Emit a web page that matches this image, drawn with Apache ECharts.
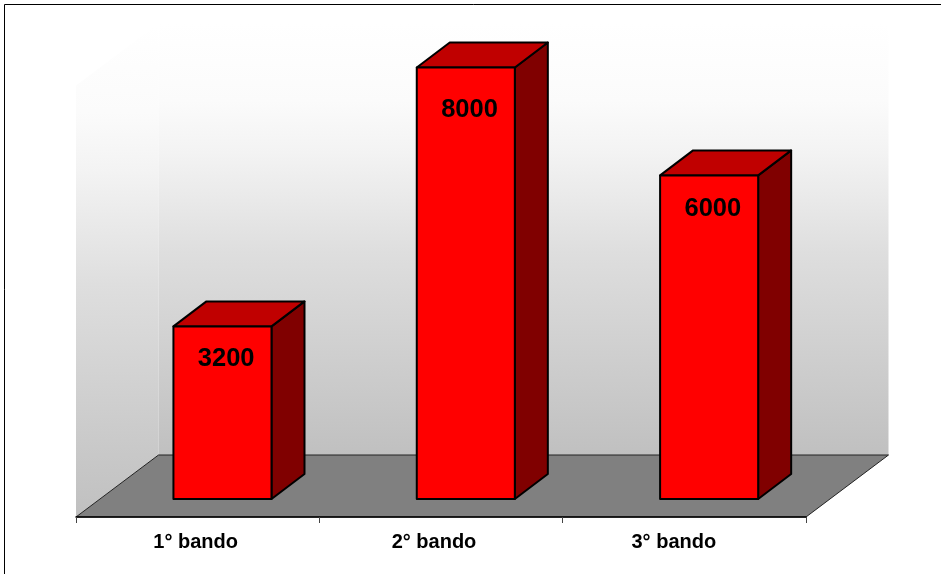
<!DOCTYPE html>
<html>
<head>
<meta charset="utf-8">
<style>html,body{margin:0;padding:0;background:#fff}#c{width:941px;height:574px}</style>
<script src="https://cdn.jsdelivr.net/npm/echarts@6/dist/echarts.min.js"></script>
</head>
<body>
<div id="c"></div>
<script>
const categories = ['1° bando', '2° bando', '3° bando'];
const values = [3200, 8000, 6000];
const axisMax = 8000;

// Styling of the pseudo-3D projection (pixels)
const wallDepth = [82.5, -62];
const barInset = [24.8, -18];
const barDepth = [33, -25];
const barWidthRatio = 0.403;
const labelDrops = [33, 42, 34];
const labelShift = 3.7;
const axisLabelPadRight = [4, 14, 21];

const chart = echarts.init(document.getElementById('c'), null, {renderer: 'canvas'});

function poly(points, fill, lineWidth, stroke) {
  return {
    type: 'polygon',
    shape: {points},
    style: {fill, stroke: stroke || '#000', lineWidth: lineWidth, lineJoin: 'round'}
  };
}

function wallGradient() {
  return new echarts.graphic.LinearGradient(0, 0, 0, 1, [
    {offset: 0, color: '#ffffff'},
    {offset: 0.18, color: '#fbfbfb'},
    {offset: 0.30, color: '#f3f3f3'},
    {offset: 0.41, color: '#e9e9e9'},
    {offset: 0.53, color: '#dedede'},
    {offset: 1, color: '#c0c0c0'}
  ]);
}

function renderRoom(params) {
  const g = params.coordSys;
  const x0 = g.x, x1 = g.x + g.width, y0 = g.y + g.height, yt = g.y;
  const [dx, dy] = wallDepth;
  return {
    type: 'group',
    silent: true,
    children: [
      poly([[x0, y0], [x0 + dx, y0 + dy], [x0 + dx, yt + dy], [x0, yt]], wallGradient(), 0, 'transparent'),
      poly([[x0 + dx, y0 + dy], [x1 + dx, y0 + dy], [x1 + dx, yt + dy], [x0 + dx, yt + dy]], wallGradient(), 0, 'transparent'),
      poly([[x0, y0], [x1, y0], [x1 + dx, y0 + dy], [x0 + dx, y0 + dy]], '#808080', 1, '#222')
    ]
  };
}

function renderBar(params, api) {
  const i = params.dataIndex;
  const c = api.coord([api.value(0), 0]);
  const t = api.coord([api.value(0), api.value(1)]);
  const w = api.size([1, 0])[0] * barWidthRatio;
  const xl = c[0] - w / 2 + barInset[0];
  const xr = xl + w;
  const yb = c[1] + barInset[1];
  const yt = t[1] + barInset[1];
  const [dx, dy] = barDepth;
  return {
    type: 'group',
    children: [
      poly([[xr, yb], [xr + dx, yb + dy], [xr + dx, yt + dy], [xr, yt]], '#800000', 2),
      poly([[xl, yt], [xr, yt], [xr + dx, yt + dy], [xl + dx, yt + dy]], '#c00000', 2),
      poly([[xl, yb], [xr, yb], [xr, yt], [xl, yt]], '#ff0000', 2),
      {
        type: 'text',
        style: {
          x: (xl + xr) / 2 + labelShift,
          y: yt + labelDrops[i],
          text: String(api.value(1)),
          fill: '#000',
          font: 'bold 25.5px "Liberation Sans", Arial, sans-serif',
          align: 'center',
          verticalAlign: 'middle'
        }
      }
    ]
  };
}

const labelFont = {
  color: '#000',
  fontFamily: '"Liberation Sans", Arial, sans-serif',
  fontWeight: 'bold',
  fontSize: 20
};
const richLabels = {};
axisLabelPadRight.forEach((p, i) => {
  richLabels['p' + i] = Object.assign({padding: [0, p, 0, 0]}, labelFont);
});

chart.setOption({
  animation: false,
  backgroundColor: '#fff',
  grid: {left: 76, top: 85.5, width: 730, height: 431.5},
  xAxis: {
    type: 'category',
    data: categories,
    boundaryGap: true,
    axisLine: {show: true, lineStyle: {color: '#000', width: 1.5}},
    axisTick: {show: true, length: 6, lineStyle: {color: '#444', width: 1}},
    axisLabel: Object.assign({
      margin: 15,
      interval: 0,
      formatter: (v, i) => '{p' + i + '|' + v + '}',
      rich: richLabels
    }, labelFont),
    z: 5
  },
  yAxis: {type: 'value', min: 0, max: axisMax, show: false, splitLine: {show: false}},
  series: [
    {type: 'custom', coordinateSystem: 'cartesian2d', data: [[0, 0]], renderItem: renderRoom, z: 1, clip: false, silent: true},
    {type: 'custom', coordinateSystem: 'cartesian2d', data: values.map((v, i) => [i, v]), encode: {x: 0, y: 1}, renderItem: renderBar, z: 2, clip: false}
  ],
  graphic: [
    {type: 'rect', silent: true, z: 10, shape: {x: 4.5, y: 4.5, width: 1000, height: 1000}, style: {fill: 'transparent', stroke: '#000', lineWidth: 1}}
  ]
});
</script>
</body>
</html>
